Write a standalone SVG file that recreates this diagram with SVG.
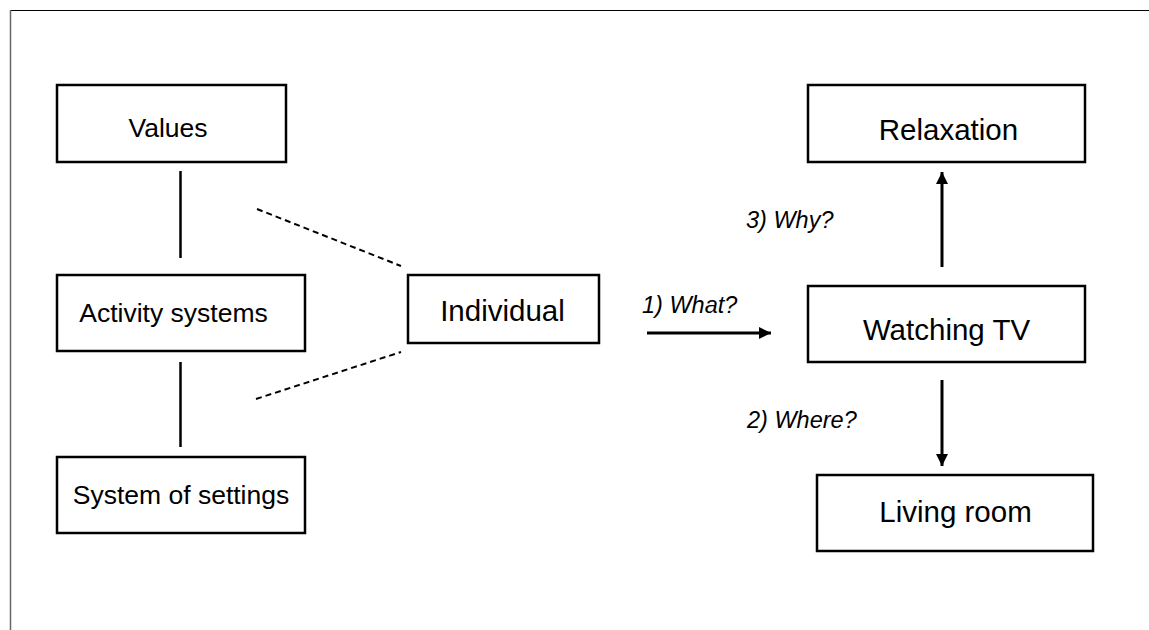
<svg xmlns="http://www.w3.org/2000/svg" width="1149" height="630" viewBox="0 0 1149 630">
<style>
.box{fill:#fff;stroke:#000;stroke-width:2.5}
.lbl{font-family:"Liberation Sans",Arial,sans-serif;fill:#000;text-anchor:middle}
.s26{font-size:26.5px}
.s29{font-size:29.5px}
.q{font-family:"Liberation Sans",Arial,sans-serif;font-style:italic;font-size:23.5px;fill:#000}
.solid{stroke:#000;stroke-width:2.5;fill:none}
.dash{stroke:#000;stroke-width:2;stroke-dasharray:6 4;fill:none}
.arr{stroke:#000;stroke-width:3;fill:none;marker-end:url(#ah)}
</style>
<defs>
<marker id="ah" viewBox="0 0 10 10" refX="10" refY="5" markerUnits="userSpaceOnUse" markerWidth="13" markerHeight="12" orient="auto">
<path d="M0,0 L10,5 L0,10 z" fill="#000"/>
</marker>
</defs>
<rect width="1149" height="630" fill="#fff"/>
<g id="frame">
<line x1="10" y1="10.5" x2="1149" y2="10.5" stroke="#000" stroke-width="1"/>
<line x1="10.5" y1="10" x2="10.5" y2="630" stroke="#666" stroke-width="1.5"/>
</g>
<g id="connectors">
<line class="solid" x1="180.5" y1="171" x2="180.5" y2="258"/>
<line class="solid" x1="180.5" y1="362" x2="180.5" y2="447"/>
<line class="dash" x1="257" y1="209" x2="401" y2="266"/>
<line class="dash" x1="256" y1="399" x2="401" y2="352"/>
<line class="arr" x1="647" y1="333" x2="771" y2="333"/>
<line class="arr" x1="942" y1="267" x2="942" y2="172"/>
<line class="arr" x1="942" y1="380" x2="942" y2="466"/>
<text class="q" x="642" y="313">1) What?</text>
<text class="q" x="746" y="228">3) Why?</text>
<text class="q" x="747" y="428">2) Where?</text>
</g>
<g id="values">
<rect class="box" x="57" y="85" width="229" height="77"/>
<text class="lbl s26" x="168" y="137">Values</text>
</g>
<g id="activity">
<rect class="box" x="57" y="275" width="248" height="76"/>
<text class="lbl s26" x="173.5" y="322">Activity systems</text>
</g>
<g id="settings">
<rect class="box" x="57" y="457" width="248" height="76"/>
<text class="lbl s26" x="181" y="504">System of settings</text>
</g>
<g id="individual">
<rect class="box" x="408" y="275" width="191" height="68"/>
<text class="lbl s29" x="502.5" y="321">Individual</text>
</g>
<g id="relaxation">
<rect class="box" x="808" y="85" width="277" height="77"/>
<text class="lbl s29" x="948.5" y="140">Relaxation</text>
</g>
<g id="watching">
<rect class="box" x="808" y="286" width="277" height="76"/>
<text class="lbl s29" x="946.5" y="340">Watching TV</text>
</g>
<g id="living">
<rect class="box" x="817" y="475" width="276" height="76"/>
<text class="lbl s29" x="955.5" y="522">Living room</text>
</g>
</svg>
